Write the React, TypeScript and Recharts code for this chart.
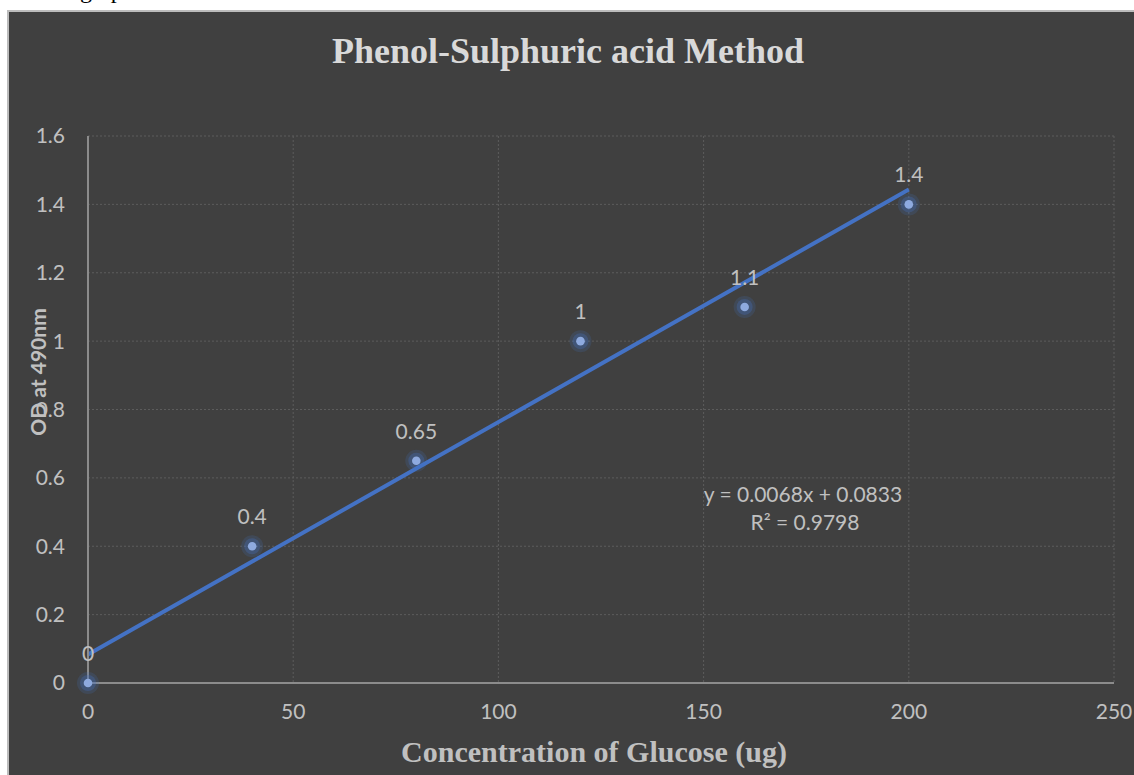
import { ComposedChart, Line, XAxis, YAxis, CartesianGrid, LabelList } from 'recharts';

// ─── Data ─────────────────────────────────────────────────────
const glucose = [0, 40, 80, 120, 160, 200];
const odValues = [0, 0.4, 0.65, 1, 1.1, 1.4];
const xTicks = [0, 50, 100, 150, 200, 250];
const yTicks = [0, 0.2, 0.4, 0.6, 0.8, 1, 1.2, 1.4, 1.6];

// linear trendline as printed on the chart
const slope = 0.0068;
const intercept = 0.0833;
const equation = 'y = 0.0068x + 0.0833';
const rSquared = 'R² = 0.9798';

const rows = glucose.map((x, i) => ({ x, od: odValues[i], trend: slope * x + intercept }));

const LABEL = '#c0c0c0';
const SANS = 'Lato, "Open Sans", sans-serif';
const SERIF = '"Liberation Serif", "Times New Roman", serif';
const FS = 21;

// eslint-disable-next-line @typescript-eslint/no-explicit-any
const GlowDot = ({ cx, cy }: any) => {
    if (cx == null || cy == null) return null;
    return (
        <g>
            <circle cx={cx} cy={cy} r={11} fill="#4472c4" opacity={0.18} />
            <circle cx={cx} cy={cy} r={8} fill="#4472c4" opacity={0.3} />
            <circle cx={cx} cy={cy} r={4.3} fill="#8eaadf" />
        </g>
    );
};

export default function App() {
    return (
        <div style={{ position: 'absolute', left: 0, top: 0, width: 1134, height: 775, background: '#fff', overflow: 'hidden' }}>
            {/* cut-off caption line of the surrounding document */}
            <div style={{ position: 'absolute', left: 80, top: -25, fontFamily: SERIF, fontSize: 24, color: '#000', lineHeight: '30px' }}>
                graph
            </div>
            <div
                style={{
                    position: 'absolute', left: 7, top: 10, width: 1140, height: 780, boxSizing: 'border-box',
                    background: '#404040', borderLeft: '2px solid #bcbcbc', borderTop: '2px solid #bcbcbc',
                }}
            >
                <ComposedChart
                    width={1125}
                    height={763}
                    data={rows}
                    margin={{ top: 124, right: 20, left: 19, bottom: 62 }}
                    style={{ fontFamily: SANS }}
                >
                    <CartesianGrid stroke="#5c5c5c" strokeDasharray="2 2" />
                    <XAxis
                        dataKey="x"
                        type="number"
                        domain={[0, 250]}
                        ticks={xTicks}
                        height={30}
                        tickLine={false}
                        tickSize={0}
                        tickMargin={21}
                        axisLine={{ stroke: '#8c8c8c', strokeWidth: 2 }}
                        tick={{ fill: LABEL, fontSize: FS }}
                    />
                    <YAxis
                        type="number"
                        domain={[0, 1.6]}
                        ticks={yTicks}
                        width={60}
                        tickLine={false}
                        tickSize={0}
                        tickMargin={23}
                        axisLine={{ stroke: '#8c8c8c', strokeWidth: 2 }}
                        tick={{ fill: LABEL, fontSize: FS }}
                    />
                    <Line dataKey="trend" stroke="#4472c4" strokeWidth={4} dot={false} activeDot={false} isAnimationActive={false} />
                    <Line dataKey="od" stroke="none" dot={<GlowDot />} activeDot={false} isAnimationActive={false}>
                        <LabelList dataKey="od" position="top" offset={22} fill={LABEL} fontSize={FS} fontFamily={SANS} />
                    </Line>
                </ComposedChart>
            </div>
            <svg width={1134} height={775} style={{ position: 'absolute', left: 0, top: 0, pointerEvents: 'none' }}>
                <text x={568} y={63} textAnchor="middle" fontFamily={SERIF} fontWeight="bold" fontSize={36} fill="#d9d9d9">
                    Phenol-Sulphuric acid Method
                </text>
                <text x={594} y={762} textAnchor="middle" fontFamily={SERIF} fontWeight="bold" fontSize={30} fill={LABEL}>
                    Concentration of Glucose (ug)
                </text>
                <text
                    x={0}
                    y={0}
                    transform="translate(46 372) rotate(-90)"
                    textAnchor="middle"
                    fontFamily={SANS}
                    fontWeight="bold"
                    fontSize={21}
                    fill={LABEL}
                >
                    OD at 490nm
                </text>
                <text x={803} y={502} textAnchor="middle" fontFamily={SANS} fontSize={FS} fill={LABEL}>
                    {equation}
                </text>
                <text x={805} y={530} textAnchor="middle" fontFamily={SANS} fontSize={FS} fill={LABEL}>
                    {rSquared}
                </text>
            </svg>
        </div>
    );
}
